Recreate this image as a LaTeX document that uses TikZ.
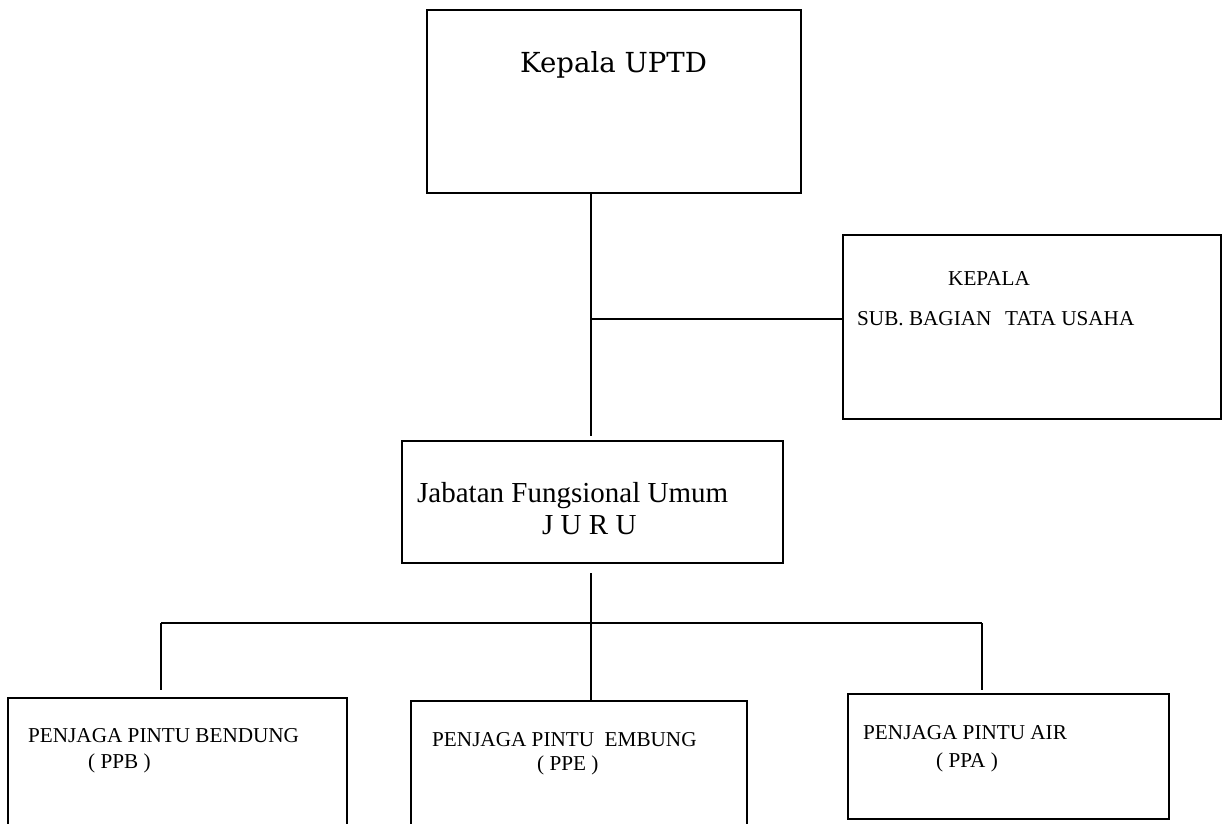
\documentclass[tikz,border=0pt]{standalone}
\usepackage{fontspec}
\setmainfont{Liberation Serif}
\newfontfamily\headfont{DejaVu Serif}
\tikzset{
  box/.style={draw=black, line width=2.2pt, rectangle, inner sep=0pt},
  link/.style={draw=black, line width=1.6pt},
  lbl/.style={anchor=base west, inner sep=0pt, font=\fontsize{21.2}{25}\selectfont},
  biglbl/.style={anchor=base west, inner sep=0pt, font=\fontsize{29}{34}\selectfont},
}
\begin{document}
\begin{tikzpicture}[x=1pt,y=-1pt]
\useasboundingbox (0,0) rectangle (1224,823);
\clip (0,0) rectangle (1224,823);
\fill[white] (0,0) rectangle (1224,823);
\frenchspacing
% boxes
\node[box, minimum width=374pt, minimum height=183pt] (top) at (614,101.5) {};
\node[box, minimum width=378pt, minimum height=184pt] (sub) at (1032,327) {};
\node[box, minimum width=381pt, minimum height=122pt] (mid) at (592.5,502) {};
\node[box, minimum width=339pt, minimum height=150pt] (ppb) at (177.5,773) {};
\node[box, minimum width=336pt, minimum height=150pt] (ppe) at (579,776) {};
\node[box, minimum width=321pt, minimum height=125pt] (ppa) at (1008.5,756.5) {};
% texts
\node[anchor=base west, inner sep=0pt, font=\headfont\fontsize{27.6}{32}\selectfont] (ttop) at (520,72) {Kepala UPTD};
\node[lbl] (tsub1) at (948,285) {KEPALA};
\node[lbl] (tsub2) at (857,325) {SUB. BAGIAN\hspace{0.15em}\ \ TATA USAHA};
\node[biglbl] (tmid1) at (417,502) {Jabatan Fungsional Umum};
\node[biglbl] (tmid2) at (542,534) {J U R U};
\node[lbl] (tppb1) at (28,742) {PENJAGA PINTU BENDUNG};
\node[lbl] (tppb2) at (88,768) {( PPB )};
\node[lbl] (tppe1) at (432,746) {PENJAGA PINTU\ \ EMBUNG};
\node[lbl] (tppe2) at (537,770) {( PPE )};
\node[lbl] (tppa1) at (863,739) {PENJAGA PINTU AIR};
\node[lbl] (tppa2) at (936,767) {( PPA )};
% junctions
\coordinate (jsub) at (591,319);
\coordinate (jbus) at (591,623);
\coordinate (bl) at (161,623);
\coordinate (br) at (982,623);
% connectors
\draw[link] (top.south -| jsub) -- ([yshift=4pt]mid.north -| jsub);
\draw[link] (jsub) -- (sub.west |- jsub);
\draw[link] ([yshift=-9pt]mid.south -| jbus) -- (ppe.north -| jbus);
\draw[link] (bl) -- (br);
\draw[link] (bl) -- ([yshift=7pt]ppb.north -| bl);
\draw[link] (br) -- ([yshift=3pt]ppa.north -| br);
\end{tikzpicture}
\end{document}
